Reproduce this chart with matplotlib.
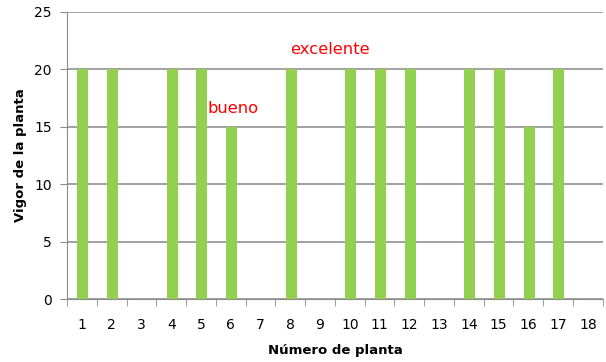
import matplotlib.pyplot as plt
import numpy as np

plantas = [str(i) for i in range(1, 19)]
vigor = [20, 20, 0, 20, 20, 15, 0, 20, 0, 20, 20, 20, 0, 20, 20, 15, 20, 0]

fig = plt.figure(figsize=(6.06, 3.62), dpi=100)
ax = fig.add_axes([0.1106, 0.174, 0.884, 0.793])

x = np.arange(1, len(plantas) + 1)
ax.bar(x + 0.03, vigor, width=0.37, color="#92D050", zorder=3)

ax.set_xlim(0.5, len(plantas) + 0.5)
ax.set_ylim(0, 25)
ax.set_yticks(range(0, 26, 5))
ax.yaxis.grid(True, color="#9a9a9a", linewidth=1.3, zorder=0)

# labels sit under each plant, tick marks fall between the plants
ax.set_xticks(x)
ax.set_xticklabels(plantas)
ax.set_xticks(np.arange(0.5, len(plantas) + 1), minor=True)
ax.tick_params(axis="x", which="major", length=0, pad=14, labelsize=10)
ax.tick_params(axis="x", which="minor", length=5, color="#8c8c8c")
ax.tick_params(axis="y", length=5, color="#8c8c8c", labelsize=10, pad=6)

for side in ("top", "right"):
    ax.spines[side].set_visible(False)
for side in ("left", "bottom"):
    ax.spines[side].set_color("#8c8c8c")

ax.set_xlabel("Número de planta", fontsize=9.5, fontweight="bold", labelpad=8)
ax.set_ylabel("Vigor de la planta", fontsize=9.5, fontweight="bold", labelpad=5)

ax.text(8.0, 21.7, "excelente", color="red", fontsize=11.8, va="center")
ax.text(5.22, 16.6, "bueno", color="red", fontsize=11.8, va="center")

fig.savefig("out.png", dpi=100)
